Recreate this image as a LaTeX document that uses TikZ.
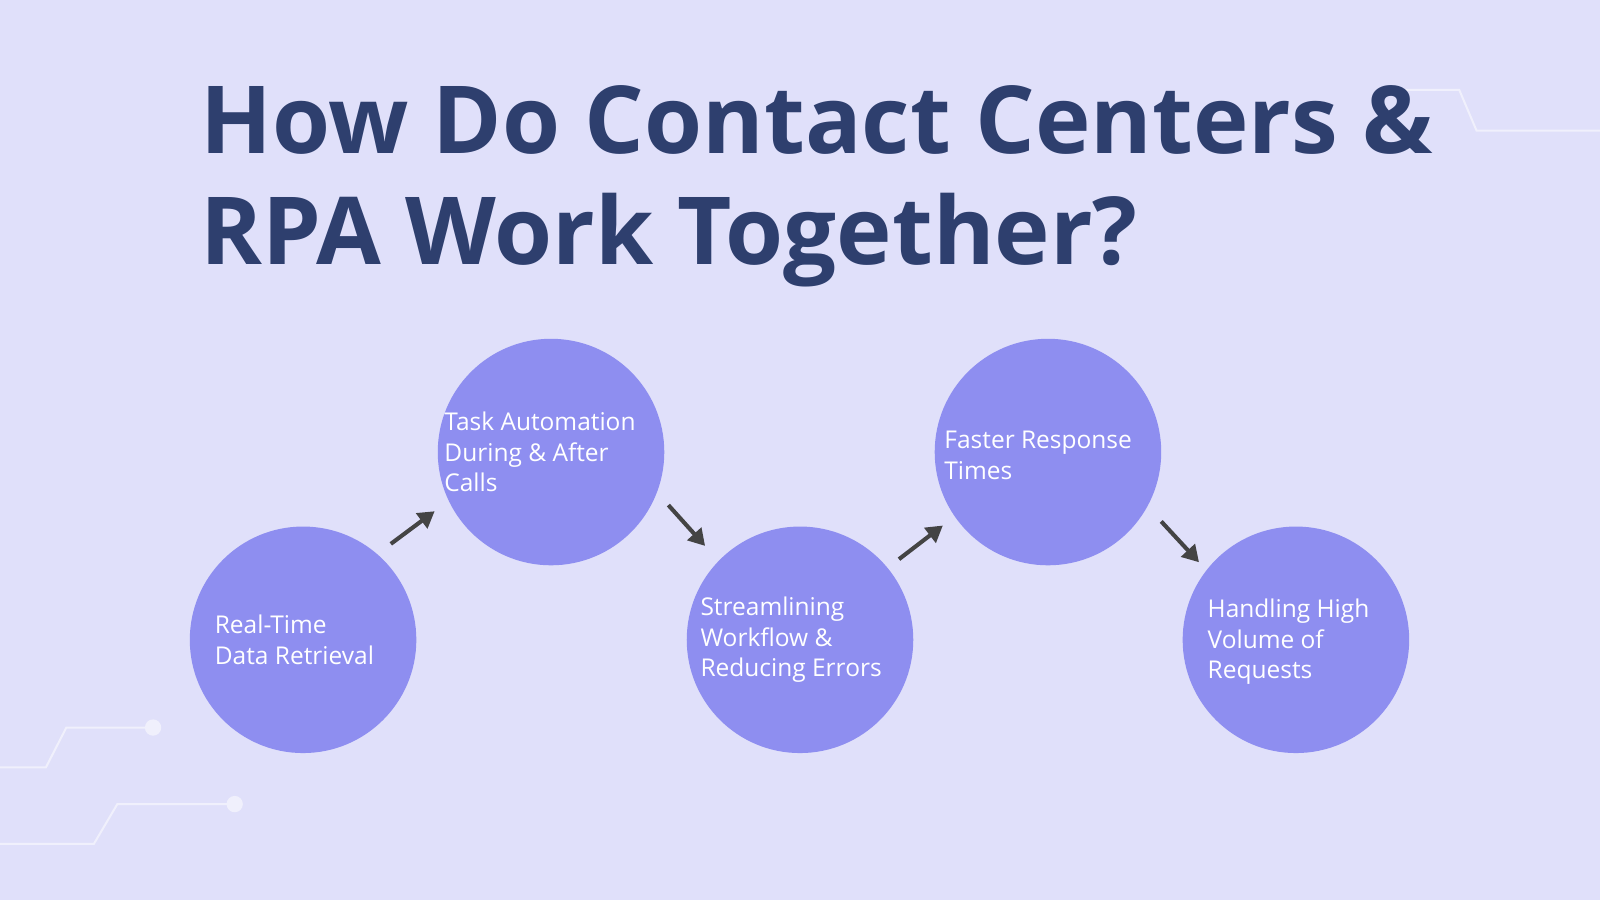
\documentclass[tikz,border=0pt]{standalone}
\usepackage{fontspec}
\setmainfont{Open Sans}
\usetikzlibrary{arrows.meta}
\definecolor{bg}{HTML}{E0E0FA}
\definecolor{circ}{HTML}{8E8EF0}
\definecolor{ttl}{HTML}{2E3F6E}
\definecolor{arr}{HTML}{444444}
\definecolor{deco}{HTML}{F0F0FC}
\begin{document}
\begin{tikzpicture}[x=1pt,y=-1pt,
  stepc/.style={circle,fill=circ,minimum size=222pt,inner sep=0pt},
  lbl/.style={anchor=west,text=white,align=left,font=\fontsize{24}{30}\selectfont},
  con/.style={draw=arr,line width=4pt,-{Triangle[length=16pt,width=18pt]}},
  dec/.style={draw=deco,line width=2pt}]
\fill[bg] (0,0) rectangle (1568,882);
\useasboundingbox (0,0) rectangle (1568,882);
\draw[dec] (0,752)--(45,752)--(65,713)--(150,713);
\fill[deco] (150,713) circle (8);
\draw[dec] (0,827)--(92,827)--(115,788)--(230,788);
\fill[deco] (230,788) circle (8);
\draw[dec] (1350,88)--(1430,88)--(1447,128)--(1568,128);
\node[anchor=base west,text=ttl,font=\fontsize{92}{110}\selectfont\bfseries,inner sep=0] (t1) at (196,150) {How Do Contact Centers \&};
\node[anchor=base west,text=ttl,font=\fontsize{92}{110}\selectfont\bfseries,inner sep=0] (t2) at (196,259) {RPA Work Together?};
\node[stepc] (c1) at (297,627) {};
\node[stepc] (c2) at (540,443) {};
\node[stepc] (c3) at (784,627) {};
\node[stepc] (c4) at (1027,443) {};
\node[stepc] (c5) at (1270,627) {};
\node[lbl] (l1) at (207,627) {Real-Time\\Data Retrieval};
\node[lbl] (l2) at (432,443) {Task Automation\\During \& After\\Calls};
\node[lbl] (l3) at (683,627) {Streamlining\\Workflow \&\\Reducing Errors};
\node[lbl] (l4) at (922,446) {Faster Response\\Times};
\node[lbl] (l5) at (1180,629) {Handling High\\Volume of\\Requests};
\coordinate (a1s) at (383,533); \coordinate (a1e) at (426,501);
\coordinate (a2s) at (655,495); \coordinate (a2e) at (691,535);
\coordinate (a3s) at (881,548); \coordinate (a3e) at (924,515);
\coordinate (a4s) at (1138,511); \coordinate (a4e) at (1175,551);
\draw[con] (a1s)--(a1e);
\draw[con] (a2s)--(a2e);
\draw[con] (a3s)--(a3e);
\draw[con] (a4s)--(a4e);
\end{tikzpicture}
\end{document}
